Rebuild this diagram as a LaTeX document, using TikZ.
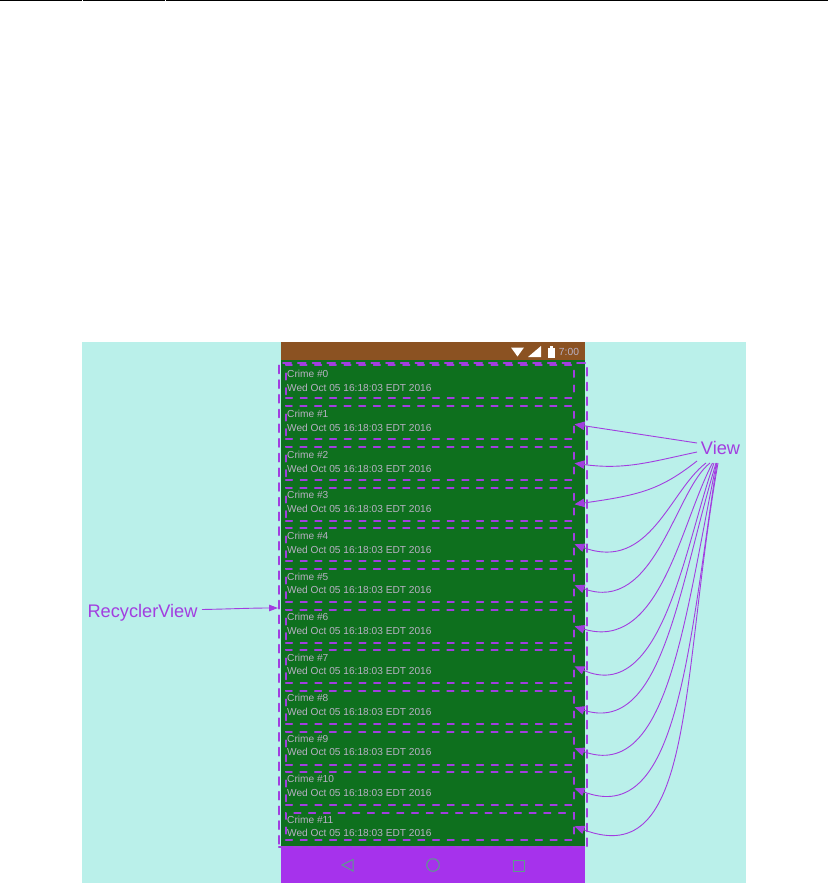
\documentclass[tikz,border=0pt]{standalone}
\usepackage{fontspec}
\setmainfont{Liberation Sans}
\usetikzlibrary{arrows.meta,calc}
\definecolor{bgc}{HTML}{BAF0EA}
\definecolor{brownc}{HTML}{8B5222}
\definecolor{greenc}{HTML}{0E701E}
\definecolor{navc}{HTML}{A632EC}
\definecolor{linec}{HTML}{A23EE0}
\definecolor{txtc}{HTML}{B8B0C4}
\definecolor{iconc}{HTML}{5C9C8C}
\tikzset{
  x=1pt,y=-1pt,
  rowbox/.style={draw=linec,line width=1.6pt,dash pattern=on 6.6pt off 8.1pt,line cap=round,
    minimum width=288pt,inner sep=0pt,anchor=north east},
  outerbox/.style={draw=linec,line width=1.8pt,dash pattern=on 8pt off 6.7pt,line cap=round,
    inner sep=0pt,anchor=north west},
  rowtxt/.style={text=txtc,font=\fontsize{10.15pt}{12pt}\selectfont,inner sep=0pt,anchor=west},
  lab/.style={text=linec,font=\fontsize{18.2pt}{20pt}\selectfont,inner sep=0pt},
  conn/.style={draw=linec,line width=0.9pt,-{Triangle[length=10pt,width=8.5pt,fill=linec]}},
  navicon/.style={draw=iconc,line width=1pt},
  rule/.style={fill=black,draw=none}
}
\begin{document}
\begin{tikzpicture}
\useasboundingbox (0,0) rectangle (828,883);
\fill[white] (0,0) rectangle (828,883);
% top rule
\fill[rule] (0,0) rectangle (82,1.5);
\fill[rule] (83,0) rectangle (165,1.5);
\fill[rule] (166,0) rectangle (828,1.5);
% backgrounds
\fill[bgc] (82,342) rectangle (746,883);
\fill[brownc] (281,342) rectangle (585,360);
\fill[greenc] (281,360) rectangle (585,846);
\fill[navc] (281,846) rectangle (585,883);
% status bar
\fill[white] (511,347.5) -- (524,347.5) -- (517.5,356.5) -- cycle;
\fill[white] (528,357) -- (541,346) -- (541,357) -- cycle;
\fill[white] (547.5,347.5) rectangle (555,357.5);
\fill[white] (549.5,346) rectangle (553,348);
\node[inner sep=0pt,text=txtc,font=\fontsize{10.3pt}{12pt}\selectfont] (clock) at (569,351.5) {7:00};
% nav bar
\draw[navicon] (353,859.5) -- (353,871) -- (342,865) -- cycle;
\draw[navicon] (433,865) circle[radius=6.3];
\draw[navicon] (513,860) rectangle (524,871);
% outer box
\node[outerbox,minimum width=308pt,minimum height=484pt] (recycler) at (278,362) {};
% rows
\foreach \i/\t/\h in {0/364/33,1/405/33,2/446/33,3/487/33,4/527/33,5/568/33,6/609/33,7/649/33,8/690/33,9/731/33,10/771/33,11/812/27}{
  \node[rowbox,minimum height=\h pt] (row\i) at (574.5,\t) {};
}
\foreach \i/\a/\b in {0/374/388,1/414/428,2/455/469,3/495/509,4/536/549.5,5/577/590,6/617/631,7/658/671,8/698/712,9/739/752,10/779/793,11/820/833}{
  \node[rowtxt] (crime\i) at (287,\a) {Crime \#\i};
  \node[rowtxt] (date\i) at (287,\b) {Wed Oct 05 16:18:03 EDT 2016};
}
% labels
\node[lab] (view) at (720.5,448) {View};
\node[lab] (rv) at (142.5,613) {RecyclerView};
\coordinate (rvend) at (202,609.5);
\draw[conn,-{Triangle[length=9pt,width=6.5pt,fill=linec]}] (rvend) .. controls (230,609) and (250,608) .. (recycler.west |- 0,608);
% connectors from View
\coordinate (v1) at (697,443);
\coordinate (v2) at (697,452);
\coordinate (v3) at (697,461);
\coordinate (v4) at (706,463);
\coordinate (v5) at (710,463);
\coordinate (v6) at (712.5,463);
\coordinate (v7) at (714,463);
\coordinate (v8) at (716,463);
\coordinate (v9) at (716.5,463);
\coordinate (v10) at (717,463);
\coordinate (v11) at (718,463);
\draw[conn] (v1) -- ([yshift=-2pt]row1.east);
\draw[conn] (v2) .. controls (650,462) and (625,470) .. (row2.east);
\draw[conn] (v3) .. controls (660,490) and (640,495) .. (row3.east);
\draw[conn] (v4) .. controls (670,490) and (650,572) .. (row4.east);
\draw[conn] (v5) .. controls (675,490) and (655,615) .. (row5.east);
\draw[conn] (v6) .. controls (680,525) and (660,652) .. (row6.east);
\draw[conn] (v7) .. controls (685,545) and (662,705) .. (row7.east);
\draw[conn] (v8) .. controls (678,590) and (662,735) .. (row8.east);
\draw[conn] (v9) .. controls (684,620) and (668,782) .. (row9.east);
\draw[conn] (v10) .. controls (688,650) and (678,828) .. (row10.east);
\draw[conn] (v11) .. controls (680,680) and (695,872) .. (row11.east);
\end{tikzpicture}
\end{document}
